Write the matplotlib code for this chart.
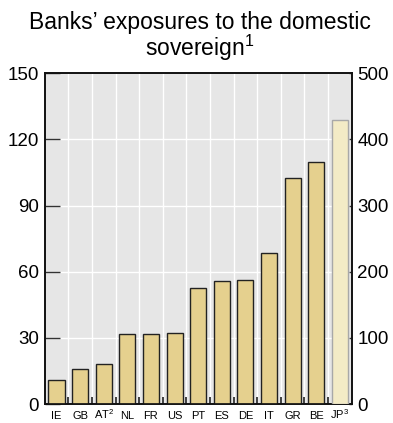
import matplotlib
matplotlib.use("Agg")
import matplotlib.pyplot as plt
import numpy as np

plt.rcParams['font.family'] = ['Liberation Sans', 'DejaVu Sans']
plt.rcParams['mathtext.fontset'] = 'custom'
plt.rcParams['mathtext.rm'] = 'Liberation Sans'
plt.rcParams['mathtext.it'] = 'Liberation Sans'

# data
countries = ["IE", "GB", "AT$^2$", "NL", "FR", "US", "PT", "ES", "DE", "IT", "GR", "BE"]
exposures = [11, 16, 18, 31.6, 31.9, 32.2, 52.7, 56, 56.3, 68.6, 102.4, 109.7]
jp_label = "JP$^3$"
jp_exposure = 430          # right-hand scale

left_ticks = [0, 30, 60, 90, 120, 150]
right_ticks = [0, 100, 200, 300, 400, 500]

bar_col = '#e5d08e'
jp_col = '#f3ebc6'
bg_col = '#e6e6e6'

fig = plt.figure(figsize=(3.93, 4.23), dpi=100)
ax = fig.add_axes([0.1137, 0.0449, 0.7813, 0.7818])
ax.set_facecolor(bg_col)

n = len(countries) + 1
x = np.arange(len(countries))
ax.bar(x, exposures, width=0.68, color=bar_col, edgecolor='#222222', linewidth=1.0, zorder=3)

ax.set_xlim(-0.5, n - 0.5)
ax.set_ylim(0, 150)
ax.set_yticks(left_ticks)
ax.set_xticks(list(x) + [n - 1])
ax.set_xticklabels(countries + [jp_label], fontsize=8)
for lab in ax.get_xticklabels():
    lab.set_verticalalignment('baseline')
ax.set_xticks(np.arange(0.5, n - 1, 1), minor=True)

ax.tick_params(axis='x', which='major', length=0, pad=10.5)
ax.tick_params(axis='x', which='minor', direction='in', length=5, width=1.2, color='#222222')
ax.tick_params(axis='y', which='major', direction='in', length=11, width=1.0,
               color='#333333', labelsize=13.5, pad=4)

# white grid
for v in left_ticks[1:-1]:
    ax.axhline(v, color='white', lw=1.0, zorder=1)
for b in np.arange(0.5, n - 1, 1):
    ax.axvline(b, color='white', lw=1.0, zorder=1)

for s in ax.spines.values():
    s.set_linewidth(1.2)
    s.set_color('#111111')

ax2 = ax.twinx()
ax2.set_ylim(0, 500)
ax2.set_yticks(right_ticks)
ax2.bar([n - 1], [jp_exposure], width=0.68, color=jp_col, edgecolor='#a8a8a8', linewidth=1.0, zorder=3)
ax2.tick_params(axis='y', direction='in', length=2.5, width=1.0, color='#333333',
                labelsize=13.5, pad=4)
for s in ax2.spines.values():
    s.set_linewidth(1.2)
    s.set_color('#111111')

fig.text(0.508, 0.975, "Banks’ exposures to the domestic\nsovereign$^1$", ha='center', va='top',
         fontsize=16.5, linespacing=0.95)

fig.savefig("out.png", dpi=100)
